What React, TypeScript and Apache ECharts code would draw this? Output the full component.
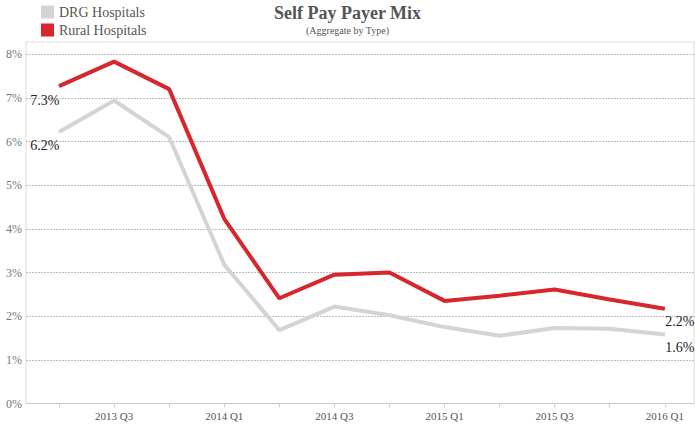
import React, { useEffect, useRef } from "react";
import * as echarts from "echarts";

const quarters = [
  "2013 Q2", "2013 Q3", "2013 Q4", "2014 Q1", "2014 Q2", "2014 Q3",
  "2014 Q4", "2015 Q1", "2015 Q2", "2015 Q3", "2015 Q4", "2016 Q1",
];
const labeledQuarterIdx = [1, 3, 5, 7, 9, 11];
const ruralValues = [7.27, 7.83, 7.2, 4.23, 2.41, 2.95, 3.0, 2.35, 2.47, 2.61, 2.38, 2.17];
const drgValues = [6.22, 6.94, 6.1, 3.18, 1.68, 2.22, 2.02, 1.75, 1.55, 1.73, 1.71, 1.58];
const yTicks = [0, 1, 2, 3, 4, 5, 6, 7, 8];

const FONT = "'Liberation Serif', 'Times New Roman', serif";
const RED = "#d7272c";
const GREY = "#d4d4d4";

function buildData(values: number[], firstOffset: number, lastOffset: number) {
  const last = values.length - 1;
  return values.map((v, i) => {
    if (i === 0) {
      return {
        value: [i, v],
        label: {
          show: true,
          position: "left",
          distance: 0,
          offset: [1, firstOffset],
        },
      };
    }
    if (i === last) {
      return {
        value: [i, v],
        label: {
          show: true,
          position: "right",
          distance: 0,
          offset: [0, lastOffset],
        },
      };
    }
    return { value: [i, v] };
  });
}

export default function App() {
  const ref = useRef<HTMLDivElement>(null);
  useEffect(() => {
    if (!ref.current) return;
    const chart = echarts.init(ref.current, null, { renderer: "svg" });
    const labelStyle = {
      fontFamily: FONT,
      fontSize: 14,
      color: "#222",
      formatter: (p: any) => p.value[1].toFixed(1) + "%",
    };
    chart.setOption({
      animation: false,
      backgroundColor: "#fff",
      title: {
        text: "Self Pay Payer Mix",
        subtext: "(Aggregate by Type)",
        left: "center",
        top: 4,
        padding: 0,
        itemGap: 3,
        textStyle: { fontFamily: FONT, fontSize: 18, fontWeight: "bold", color: "#555" },
        subtextStyle: { fontFamily: FONT, fontSize: 10, color: "#555" },
      },
      legend: {
        orient: "vertical",
        left: 41,
        top: 5,
        padding: 0,
        itemWidth: 13,
        itemHeight: 13,
        itemGap: 4,
        icon: "rect",
        textStyle: { fontFamily: FONT, fontSize: 14, color: "#555", lineHeight: 13 },
        data: ["DRG Hospitals", "Rural Hospitals"],
      },
      grid: {
        left: 26,
        right: 1,
        top: 42,
        bottom: 24.5,
        show: true,
        borderColor: "#dcdcdc",
        borderWidth: 1,
      },
      xAxis: {
        type: "value",
        min: -0.6,
        max: 11.53,
        axisLine: { show: false },
        splitLine: { show: false },
        axisTick: {
          show: true,
          customValues: quarters.map((_, i) => i),
          length: 4,
          lineStyle: { color: "#cfcfcf" },
        },
        axisLabel: {
          customValues: labeledQuarterIdx,
          formatter: (v: number) => quarters[Math.round(v)] ?? "",
          fontFamily: FONT,
          fontSize: 11,
          color: "#555",
          margin: 7,
        },
      },
      yAxis: {
        type: "value",
        min: 0,
        max: 8.28,
        interval: 1,
        axisLine: { show: false },
        axisTick: { show: false },
        splitLine: {
          show: true,
          showMaxLine: false,
          lineStyle: { color: "#bdbdbd", type: [2, 1], width: 1 },
        },
        axisLabel: {
          formatter: (v: number) => (yTicks.includes(v) ? v + "%" : ""),
          fontFamily: FONT,
          fontSize: 12,
          color: "#777",
          margin: 4,
        },
      },
      series: [
        {
          name: "DRG Hospitals",
          type: "line",
          data: buildData(drgValues, 14, 13),
          showSymbol: true,
          symbol: "circle",
          symbolSize: 1,
          itemStyle: { color: GREY },
          lineStyle: { color: GREY, width: 4 },
          label: labelStyle,
          z: 2,
        },
        {
          name: "Rural Hospitals",
          type: "line",
          data: buildData(ruralValues, 14, 13),
          showSymbol: true,
          symbol: "circle",
          symbolSize: 1,
          itemStyle: { color: RED },
          lineStyle: { color: RED, width: 4 },
          label: labelStyle,
          z: 3,
        },
      ],
    });
    return () => chart.dispose();
  }, []);
  return <div ref={ref} style={{ width: 695, height: 428, position: "absolute", left: 0, top: 0 }} />;
}
